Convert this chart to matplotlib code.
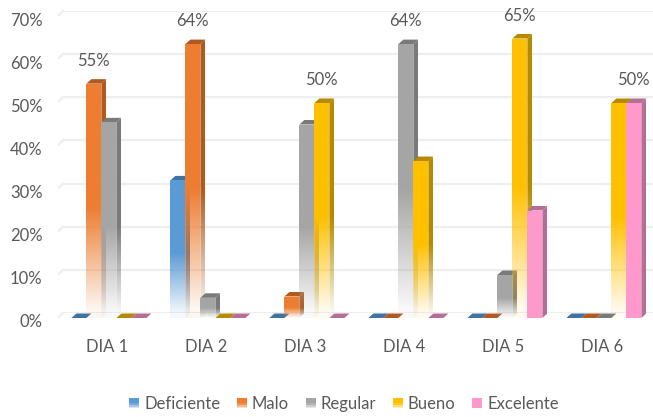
import numpy as np
import matplotlib
matplotlib.use("Agg")
import matplotlib.pyplot as plt
from matplotlib.colors import to_rgb
from matplotlib.legend_handler import HandlerBase
from matplotlib.patches import Patch, Polygon, Rectangle
from matplotlib.transforms import ScaledTranslation

plt.rcParams['font.family'] = ['Lato', 'DejaVu Sans']

dias = ["DIA 1", "DIA 2", "DIA 3", "DIA 4", "DIA 5", "DIA 6"]
deficiente = [0, 32, 0, 0, 0, 0]
malo = [54.5, 63.7, 5, 0, 0, 0]
regular = [45.5, 4.7, 45, 63.7, 10, 0]
bueno = [0, 0, 50, 36.5, 65, 50]
excelente = [0, 0, 0, 0, 25, 50]
etiquetas = ["55%", "64%", "50%", "64%", "65%", "50%"]
# which series carries the label in each day
etiqueta_serie = [1, 1, 3, 2, 3, 4]
ticks = [0, 10, 20, 30, 40, 50, 60, 70]

series = [deficiente, malo, regular, bueno, excelente]
nombres = ["Deficiente", "Malo", "Regular", "Bueno", "Excelente"]
colores = ["#5B9BD5", "#ED7D31", "#A5A5A5", "#FFC000", "#FF99CC"]
oscuros = ["#3F73A3", "#B05A20", "#7A7A7A", "#B58A00", "#B56F95"]
con_fade = [True, True, True, True, False]

W, H = 653, 417
ancho = 15 / 99
dx = 5 / 99
dy = 4.5 / 4.3
tam = 12

fig = plt.figure(figsize=(W / 100, H / 100), dpi=100)


def caja(x0, x1, y_top, y_bottom):
    return [x0 / W, 1 - y_bottom / H, (x1 - x0) / W, (y_bottom - y_top) / H]


# back wall has its own scale, gridlines sit a bit higher than the bars
pared = fig.add_axes(caja(60, 653, 11, 313))
pared.set_xlim(60, 653)
pared.set_ylim(0, 70)
pared.axis("off")
for t in ticks:
    pared.plot([63, 653], [t, t], color="#EEEEEE", lw=1.6, zorder=1)
    pared.plot([59, 63], [t - 0.9, t], color="#EEEEEE", lw=1.6, zorder=1, clip_on=False)

ax = fig.add_axes(caja(60, 653, 17, 318))
ax.patch.set_alpha(0)


def degradado(color, x0, x1, y0, y1, v, clip, fade, z):
    # solid down to about half the bar, then goes transparent at the floor
    ys = np.linspace(y1, y0, 160)
    if fade:
        a = np.clip(ys / (0.47 * v), 0.06, 1)
    else:
        a = np.ones_like(ys)
    img = np.ones((len(ys), 1, 4))
    img[:, :, :3] = to_rgb(color)
    img[:, 0, 3] = a
    im = ax.imshow(img, extent=(x0, x1, y0, y1), aspect="auto", zorder=z,
                   interpolation="bilinear")
    im.set_clip_path(clip)


for d in range(len(dias)):
    for s in range(len(series)):
        v = series[s][d]
        x0 = d - 0.36 + s * ancho
        x1 = x0 + ancho
        z = 3 + d * 10 + s
        techo = Polygon([(x0, v), (x1, v), (x1 + dx, v + dy), (x0 + dx, v + dy)],
                        fc=oscuros[s], ec="none", zorder=z, clip_on=False)
        ax.add_patch(techo)
        if v == 0:
            continue
        lado = Polygon([(x1, 0), (x1 + dx, dy), (x1 + dx, v + dy), (x1, v)],
                       fc="none", ec="none", zorder=z)
        ax.add_patch(lado)
        degradado(oscuros[s], x1, x1 + dx, 0, v + dy, v, lado, con_fade[s], z)
        frente = Rectangle((x0, 0), ancho, v, fc="none", ec="none", zorder=z)
        ax.add_patch(frente)
        degradado(colores[s], x0, x1, 0, v, v, frente, con_fade[s], z + 0.5)

for d, txt in enumerate(etiquetas):
    s = etiqueta_serie[d]
    x0 = d - 0.36 + s * ancho
    ax.annotate(txt, (x0 + ancho / 2, series[s][d]), xytext=(0, 23), textcoords="offset pixels",
                ha="center", va="center", fontsize=tam, color="#595959", zorder=100,
                annotation_clip=False)

ax.set_xlim(-0.475, 5.515)
ax.set_ylim(0, 70)
ax.set_xticks(range(len(dias)), dias)
ax.set_yticks(ticks, [str(t) + "%" for t in ticks])
ax.tick_params(length=0, labelsize=tam, labelcolor="#595959")
ax.tick_params(axis="x", pad=15)
ax.tick_params(axis="y", pad=12.5)
bajar = ScaledTranslation(0, -2.5 / 100, fig.dpi_scale_trans)
for lab in ax.get_yticklabels():
    lab.set_transform(lab.get_transform() + bajar)
for sp in ax.spines.values():
    sp.set_visible(False)


class CuadroFade(HandlerBase):
    def create_artists(self, legend, orig, xd, yd, w, h, fs, trans):
        fade = orig.get_label() != "Excelente"
        rgb = np.array(to_rgb(orig.get_facecolor()[:3]))
        n = 6
        out = []
        for i in range(n):
            a = min(1, 0.25 + i * 0.3) if fade else 1
            r = Rectangle((xd * -1, -yd + h * i / n), w, h / n + 0.2,
                          fc=rgb * a + (1 - a), ec="none", transform=trans)
            out.append(r)
        return out


handles = [Patch(fc=c, label=n) for c, n in zip(colores, nombres)]
ax.legend(handles=handles, handler_map={Patch: CuadroFade()}, ncol=5, frameon=False,
          loc="center", bbox_to_anchor=(344 / W, 1 - 404 / H), bbox_transform=fig.transFigure,
          fontsize=tam, labelcolor="#595959", handlelength=0.6, handleheight=0.6,
          handletextpad=0.3, columnspacing=1.0, borderpad=0, borderaxespad=0)

fig.savefig("out.png", dpi=100)
